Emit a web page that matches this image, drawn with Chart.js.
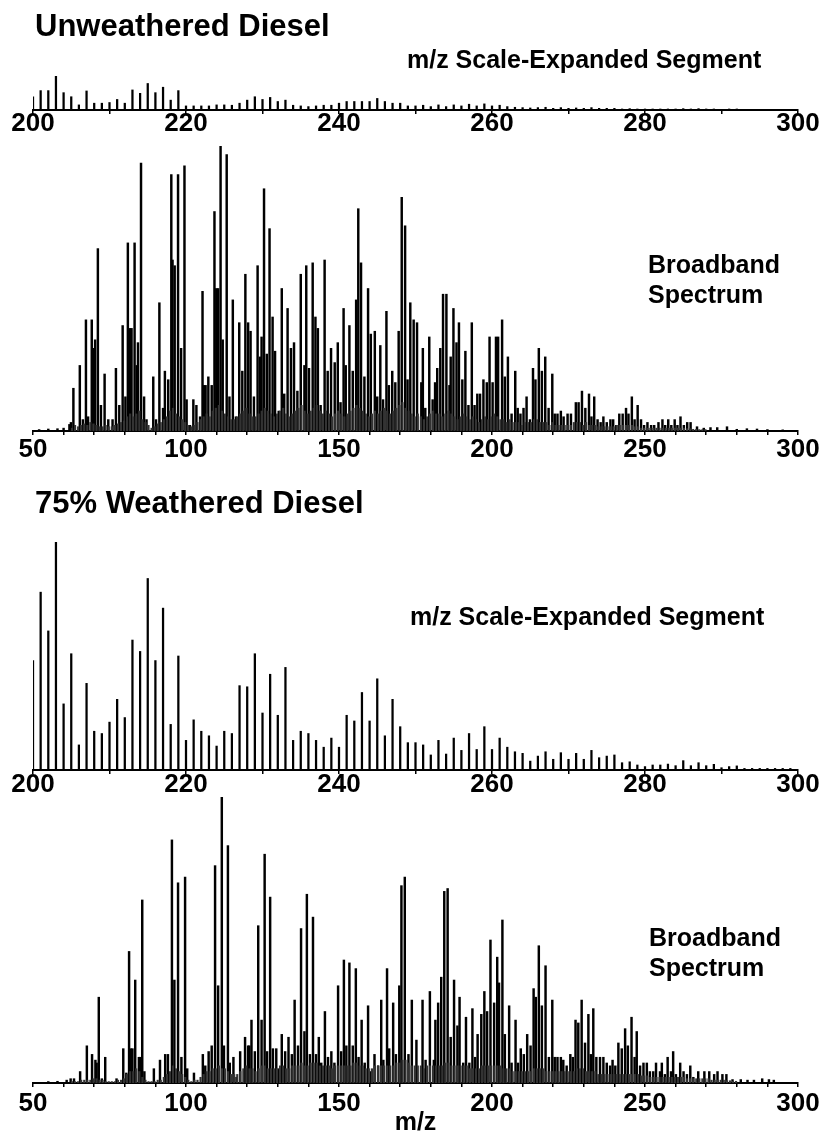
<!DOCTYPE html>
<html>
<head>
<meta charset="utf-8">
<script src="https://cdn.jsdelivr.net/npm/chart.js@4.4.1/dist/chart.umd.min.js"></script>
<style>
  body { margin: 0; background: #fff; width: 832px; height: 1133px; position: relative; overflow: hidden; }
  canvas { position: absolute; left: 0; }
</style>
</head>
<body>
<canvas id="c1" width="832" height="140" style="top:0px"></canvas>
<canvas id="c2" width="832" height="325" style="top:140px"></canvas>
<canvas id="c3" width="832" height="335" style="top:465px"></canvas>
<canvas id="c4" width="832" height="346" style="top:790px"></canvas>
<script>
// expanded segments: one peak per nominal mass starting at 200
const segmentStart = 200;
const segmentTicks = [200, 220, 240, 260, 280, 300];
const broadTicks = [50, 100, 150, 200, 250, 300];

// unweathered diesel, m/z 200-299 (relative intensity)
const unweatheredSegment = [
  39, 57, 57, 100, 51, 39, 15, 56, 20, 20,
  22, 31, 20, 59, 49, 78, 51, 67, 29, 57,
  12, 12, 12, 12, 15, 15, 14, 20, 29, 39,
  31, 37, 25, 29, 14, 12, 10, 12, 14, 14,
  20, 25, 25, 25, 25, 34, 25, 20, 20, 12,
  12, 14, 10, 15, 10, 15, 12, 17, 12, 18,
  12, 14, 10, 8, 7, 6, 7, 8, 5, 7,
  5, 6, 5, 7, 5, 5, 5, 3, 4, 3,
  3, 3, 3, 3, 3, 4, 3, 4, 3, 3,
  2, 3, 3, 2, 2, 2, 2, 2, 2, 2
];

// 75% weathered diesel, m/z 200-299
const weatheredSegment = [
  48, 78, 61, 100, 29, 51, 11, 38, 17, 16,
  21, 31, 23, 57, 52, 84, 48, 71, 20, 50,
  13, 22, 17, 15, 10.5, 17, 16, 37, 36.5, 51,
  25, 42, 24, 45, 13, 17, 16, 13, 10, 14,
  10, 24, 21.5, 34, 21.5, 40, 15, 31, 19, 12,
  12, 11, 6.6, 13, 7, 14, 8.6, 16, 9, 19,
  9, 14, 10, 8, 7.3, 3.9, 6.1, 8, 4.7, 7.6,
  4.7, 7.3, 4.7, 8.6, 5.4, 6.1, 6.6, 3.2, 3.6, 2.2,
  1.5, 2.2, 2.2, 2.6, 1.9, 4.1, 1.9, 3.2, 1.9, 2.5,
  1, 1.5, 1.8, 0.7, 0.7, 0.7, 0.7, 0.7, 0.7, 0.7
];

// unweathered diesel broadband spectrum
const unweatheredMz = [
  52, 55, 58, 60, 61.9, 62.4, 63.2, 65.3, 66.3, 67.3,
  68.0, 69.2, 69.7, 70.3, 71.2, 72.2, 73.4, 74.6, 76.0, 77.1,
  78.2, 79.3, 80.2, 81.0, 81.7, 82.2, 83.2, 83.9, 84.3, 85.3,
  86.3, 87.1, 89.3, 90.2, 91.3, 92.5, 93.1, 94.2, 95.2, 95.6,
  96.3, 97.4, 98.4, 99.5, 100.2, 101.3, 102.4, 103.4, 104.6, 105.4,
  105.9, 106.4, 107.3, 108.4, 109.3, 109.9, 110.5, 111.3, 112.0, 113.3,
  114.2, 115.3, 116.3, 117.4, 118.4, 119.4, 120.3, 121.1, 122.2, 123.4,
  124.2, 124.7, 125.5, 126.4, 127.3, 128.3, 129.1, 130.3, 131.3, 132.1,
  133.2, 134.3, 135.3, 136.4, 137.5, 138.7, 139.3, 140.2, 141.4, 142.3,
  143.1, 144.0, 145.3, 146.3, 147.4, 148.6, 149.6, 150.5, 151.5, 152.2,
  153.4, 154.5, 155.6, 156.3, 157.2, 158.3, 159.5, 160.4, 161.7, 162.5,
  163.5, 164.4, 165.5, 166.3, 167.4, 168.4, 169.5, 170.5, 171.6, 172.4,
  173.3, 174.4, 175.5, 176.9, 177.4, 178.2, 179.5, 180.6, 181.4, 182.1,
  183.1, 184.0, 185.1, 186.1, 186.5, 187.4, 188.4, 189.2, 190.3, 191.3,
  192.3, 193.4, 194.3, 195.2, 196.1, 197.2, 198.3, 199.2, 200.2, 201.3,
  202.0, 203.3, 204.2, 205.2, 206.4, 207.6, 208.4, 209.3, 210.3, 211.3,
  212.4, 213.4, 214.2, 215.3, 216.3, 217.4, 218.5, 219.7, 220.5, 221.4,
  222.5, 223.4, 224.7, 225.8, 227.4, 228.3, 229.4, 230.5, 231.7, 232.5,
  233.4, 234.5, 235.5, 236.4, 237.5, 238.7, 239.6, 240.6, 241.6, 242.7,
  243.8, 244.6, 245.7, 246.6, 247.6, 248.7, 249.7, 250.8, 252.0, 253.0,
  254.4, 255.7, 256.6, 257.6, 258.6, 259.7, 260.6, 261.6, 262.7, 263.8,
  264.9, 267.0, 269.2, 271.4, 273.6, 276.8, 280, 283.3, 286.6, 290, 295
];
const unweatheredInt = [
  0.5, 0.7, 0.8, 1, 2.3, 3, 15, 23, 4, 39,
  5, 39, 29, 32, 64, 9, 20, 4, 4, 22,
  9, 37, 12, 66, 36, 36, 66, 23, 31, 94,
  12, 4, 19, 4, 45, 8, 21, 18, 90, 60,
  58, 90, 29, 93, 11, 2, 11, 9, 5, 49,
  16, 16, 19, 16, 77, 50, 50, 100, 32, 97,
  12, 46, 5, 38, 21, 55, 38, 35, 12, 58,
  26, 33, 85, 27, 71, 40, 28, 7, 50, 13,
  43, 29, 31, 14, 55, 23, 58, 22, 59, 40,
  36, 9, 60, 21, 29, 24, 31, 10, 43, 23,
  37, 21, 46, 78, 59, 19, 50, 34, 35, 12,
  30, 11, 42, 16, 21, 17, 35, 82, 72, 18,
  45, 39, 38, 17, 29, 8, 33, 11, 17, 22,
  29, 48, 48, 16, 26, 43, 31, 38, 18, 28,
  9, 38, 9, 13, 13, 18, 17, 33, 17, 33,
  33, 39, 19, 26, 6, 21, 8, 6, 8, 12,
  4, 22, 18, 29, 21, 26, 8, 20, 6, 6,
  7, 5, 6, 6, 10, 10, 14, 8, 13, 5,
  12, 4, 3, 5, 3, 4, 4, 2, 6, 6,
  8, 6, 12, 4, 9, 4, 2, 3, 2, 2,
  3, 4, 2, 4, 2, 4, 2, 5, 2, 3,
  3, 1.5, 1, 1.2, 1.2, 1.5, 0.6, 0.8, 0.7, 0.5, 0.4
];
// small unresolved peaks between the main ones, m/z 62.75, 63.75, ...
const minorStart = 62.75;
const unweatheredMinor = [
  1, 2, 1.5, 2, 2.5, 2, 3, 2.5, 2, 1.5,
  1.5, 2, 1.5, 1.5, 2, 2.5, 3, 3.5, 5, 6,
  5, 6, 7, 4, 3, 2, 1, 1.5, 2.5, 3,
  4, 5, 7, 8, 6, 5, 4, 3, 2, 1.5,
  2, 3, 4, 5, 6, 5, 7, 8, 9, 7,
  6, 5, 4, 4, 5, 6, 7, 8, 6, 5,
  5, 6, 7, 8, 7, 6, 5, 6, 7, 8,
  6, 5, 6, 7, 8, 9, 7, 6, 7, 8,
  9, 7, 6, 7, 6, 5, 6, 7, 6, 5,
  6, 7, 8, 9, 8, 7, 6, 5, 6, 7,
  6, 7, 8, 7, 6, 7, 8, 9, 10, 8,
  7, 6, 5, 6, 5, 4, 5, 6, 7, 6,
  6, 5, 6, 7, 6, 5, 4, 5, 6, 5,
  4, 5, 4, 3, 4, 5, 4, 5, 6, 5,
  4, 4, 3, 4, 3, 3, 3, 2, 3, 3,
  3, 4, 4, 3, 3, 3, 2, 3, 2, 2,
  2, 2, 2, 2, 3, 3, 3, 2, 3, 2,
  2, 2, 1.5, 1.5, 1.5, 1.5, 1.5, 1.5, 2, 2,
  2, 2, 2, 2, 1.5, 1.5, 1, 1, 1, 1,
  1, 1, 1, 1, 1, 1, 1, 1, 1, 1,
  1, 0.8, 0.8, 0.6, 0.6, 0.5, 0.5, 0.5
];

// 75% weathered diesel broadband spectrum
const weatheredMz = [
  55, 58, 61, 62.3, 63.4, 65.4, 67.6, 69.3, 70.4, 70.8,
  71.5, 72.5, 73.6, 77.3, 79.5, 80.5, 81.4, 82.0, 82.5, 83.4,
  84.6, 85.1, 85.7, 86.4, 89.5, 91.5, 93.2, 94.1, 95.4, 96.2,
  97.4, 98.5, 99.7, 100.4, 102.6, 105.5, 106.3, 107.4, 108.4, 109.5,
  110.5, 111.7, 112.4, 113.7, 114.3, 115.5, 116.5, 117.7, 119.3, 120.3,
  120.7, 121.4, 122.5, 123.6, 124.7, 125.7, 126.5, 127.5, 128.4, 129.5,
  130.4, 131.3, 132.4, 133.5, 134.6, 135.5, 136.6, 137.6, 138.7, 139.5,
  140.5, 141.5, 142.5, 143.4, 144.2, 145.4, 146.4, 147.5, 148.5, 149.7,
  150.7, 151.6, 152.4, 153.4, 154.5, 155.5, 156.4, 157.4, 158.4, 159.5,
  160.5, 161.6, 162.8, 163.8, 164.5, 165.7, 166.4, 167.7, 168.6, 169.7,
  170.4, 171.5, 172.7, 173.8, 175.3, 177.3, 178.3, 179.7, 181.0, 181.5,
  182.4, 183.4, 184.4, 185.5, 186.5, 187.6, 188.7, 189.4, 190.6, 191.5,
  192.6, 193.6, 194.5, 195.3, 196.5, 197.5, 198.4, 199.5, 200.7, 201.7,
  202.3, 203.4, 204.2, 205.6, 206.4, 207.7, 208.5, 209.4, 210.4, 211.5,
  212.6, 213.6, 214.3, 215.3, 216.3, 217.5, 218.6, 219.7, 220.5, 221.4,
  222.5, 223.3, 224.4, 225.6, 226.4, 227.3, 228.2, 229.3, 230.4, 231.5,
  232.3, 233.1, 234.1, 235.3, 236.4, 237.5, 238.6, 239.4, 240.3, 241.3,
  242.4, 243.5, 244.4, 245.6, 246.6, 247.3, 248.4, 249.5, 250.6, 251.6,
  252.7, 253.6, 254.9, 255.5, 256.5, 257.4, 258.5, 259.2, 260.1, 261.5,
  262.6, 263.7, 264.8, 265.8, 267.4, 269.4, 271.0, 272.6, 273.7, 275.3,
  276.6, 278.6, 281.3, 283.5, 285.6, 288.3, 290.5, 292.1
];
const weatheredInt = [
  0.5, 0.6, 1, 1.5, 1.5, 4, 13, 10, 8, 7,
  30, 1.5, 9, 1.5, 12, 3.5, 46, 12, 12, 36,
  9, 9, 64, 4, 5, 8, 10, 10, 85, 36,
  70, 9, 72, 5, 3.5, 10, 6, 11, 13, 76,
  34, 100, 13, 83, 7, 9, 2, 11, 16, 13,
  13, 22, 11, 55, 22, 80, 11, 65, 12, 12,
  5, 17, 11, 16, 10, 29, 13, 54, 18, 66,
  10, 58, 10, 16, 7, 25, 9, 11, 7, 34,
  11, 43, 13, 42, 13, 40, 9, 22, 7, 27,
  4, 10, 6, 29, 8, 40, 12, 28, 10, 34,
  69, 72, 10, 29, 15, 29, 8, 32, 8, 22,
  28, 37, 67, 68, 16, 36, 20, 30, 7, 23,
  7, 26, 9, 17, 24, 32, 25, 50, 28, 44,
  35, 57, 17, 27, 7, 22, 7, 12, 10, 17,
  13, 33, 30, 48, 27, 41, 9, 29, 9, 9,
  9, 8, 6, 10, 9, 22, 21, 29, 14, 24,
  10, 26, 9, 9, 9, 7, 6, 8, 6, 14,
  12, 19, 13, 23, 9, 18, 6, 7, 7, 4,
  4, 7, 4, 7, 3, 9, 4, 11, 3, 7,
  4, 3, 6, 2, 4, 4, 4, 3, 4, 3,
  3, 1.2, 1.2, 1, 1, 1.5, 1.2, 1
];
const weatheredMinor = [
  0.5, 0.5, 0.5, 1, 1, 1, 1, 1.5, 1.5, 1,
  1, 0.5, 0.5, 0.5, 0.5, 1, 1, 1.5, 3, 4,
  4, 5, 4, 2, 1, 0.5, 0.5, 0.5, 1, 1,
  2, 3, 4, 6, 5, 4, 3, 2, 1, 0.5,
  1, 1, 2, 3, 4, 4, 5, 5, 6, 5,
  5, 4, 3, 3, 3, 4, 5, 6, 5, 5,
  4, 5, 6, 6, 5, 5, 5, 5, 6, 6,
  5, 5, 6, 6, 6, 7, 6, 6, 7, 7,
  7, 6, 6, 6, 6, 5, 6, 6, 6, 6,
  6, 6, 7, 7, 6, 6, 5, 5, 5, 6,
  6, 6, 6, 6, 6, 6, 7, 7, 8, 8,
  7, 6, 6, 6, 6, 5, 6, 6, 6, 6,
  6, 6, 7, 7, 6, 6, 6, 6, 6, 6,
  5, 5, 5, 5, 6, 6, 6, 6, 6, 6,
  6, 5, 5, 5, 4, 4, 4, 4, 4, 4,
  4, 5, 5, 5, 5, 4, 4, 4, 4, 4,
  4, 4, 4, 4, 4, 5, 5, 5, 4, 4,
  4, 4, 3, 3, 3, 3, 3, 3, 3, 3,
  3, 3, 3, 3, 3, 3, 2.5, 2.5, 2.5, 2,
  2, 2, 2, 2, 2, 2, 2, 2, 2, 2,
  2, 1.5, 1.5, 1.5, 1.5, 1.5, 1.5, 1.5, 1.5, 1,
  1, 1, 1, 1, 0.8, 0.8, 0.6, 0.6
];

const FONT = "'Liberation Sans', Arial, Helvetica, sans-serif";

// draws the free text of each panel (titles and notes)
function textPlugin(items) {
  return {
    id: 'panelText',
    afterDraw(chart) {
      const ctx = chart.ctx;
      ctx.save();
      ctx.fillStyle = '#000';
      ctx.textBaseline = 'alphabetic';
      ctx.textAlign = 'left';
      for (const it of items) {
        ctx.font = 'bold ' + it.size + 'px ' + FONT;
        ctx.fillText(it.text, it.x, it.y);
      }
      ctx.restore();
    }
  };
}

function makeChart(id, datasets, opt) {
  return new Chart(document.getElementById(id), {
    type: 'bar',
    data: { datasets: datasets },
    options: {
      responsive: false,
      animation: false,
      grouped: false,
      layout: { padding: { left: 33, right: 34, top: opt.top, bottom: 0 } },
      plugins: { legend: { display: false }, tooltip: { enabled: false } },
      scales: {
        x: {
          type: 'linear',
          offset: false,
          min: opt.min,
          max: opt.max,
          border: { color: '#000', width: 2 },
          grid: { offset: false, drawOnChartArea: false, tickLength: 4, color: '#000', lineWidth: 1.5 },
          ticks: {
            stepSize: 10,
            autoSkip: false,
            maxRotation: 0,
            color: '#000',
            padding: opt.labelPad,
            font: { family: FONT, size: 26, weight: 'bold', lineHeight: 1 },
            callback: v => opt.labels.includes(v) ? String(v) : ''
          },
          title: opt.title ? {
            display: true, text: opt.title, color: '#000', padding: { top: 0, bottom: 0 },
            font: { family: FONT, size: 25, weight: 'bold', lineHeight: 1 }
          } : { display: false },
          afterFit: s => { s.height = opt.axisH; }
        },
        y: { display: false, min: 0, max: 100 }
      }
    },
    plugins: [textPlugin(opt.text)]
  });
}

function peaks(points, color, width) {
  return { data: points, backgroundColor: color, borderWidth: 0, barThickness: width, grouped: false };
}

const seg1 = unweatheredSegment.map((v, i) => ({ x: segmentStart + i, y: v }));
const seg2 = weatheredSegment.map((v, i) => ({ x: segmentStart + i, y: v }));
const bb1 = unweatheredMz.map((m, i) => ({ x: m, y: unweatheredInt[i] }));
const bb2 = weatheredMz.map((m, i) => ({ x: m, y: weatheredInt[i] }));
const minor1 = unweatheredMinor.map((v, i) => ({ x: minorStart + i, y: v }));
const minor2 = weatheredMinor.map((v, i) => ({ x: minorStart + i, y: v }));

makeChart('c1', [peaks(seg1, '#000', 1.6)], {
  min: 200, max: 300, labels: segmentTicks, top: 76, axisH: 30, labelPad: -3.5,
  text: [
    { text: 'Unweathered Diesel', x: 35, y: 36, size: 31 },
    { text: 'm/z Scale-Expanded Segment', x: 407, y: 68, size: 25 }
  ]
});

makeChart('c2', [peaks(minor1, '#333', 1.5), peaks(bb1, '#000', 1.8)], {
  min: 50, max: 300, labels: broadTicks, top: 6, axisH: 34, labelPad: 2,
  text: [
    { text: 'Broadband', x: 648, y: 133, size: 25 },
    { text: 'Spectrum', x: 648, y: 163, size: 25 }
  ]
});

makeChart('c3', [peaks(seg2, '#000', 1.6)], {
  min: 200, max: 300, labels: segmentTicks, top: 77, axisH: 30, labelPad: -2.5,
  text: [
    { text: '75% Weathered Diesel', x: 35, y: 48, size: 31 },
    { text: 'm/z Scale-Expanded Segment', x: 410, y: 160, size: 25 }
  ]
});

makeChart('c4', [peaks(minor2, '#333', 1.5), peaks(bb2, '#000', 1.8)], {
  min: 50, max: 300, labels: broadTicks, top: 7, axisH: 53, labelPad: 4, title: 'm/z',
  text: [
    { text: 'Broadband', x: 649, y: 156, size: 25 },
    { text: 'Spectrum', x: 649, y: 186, size: 25 }
  ]
});
</script>
</body>
</html>
